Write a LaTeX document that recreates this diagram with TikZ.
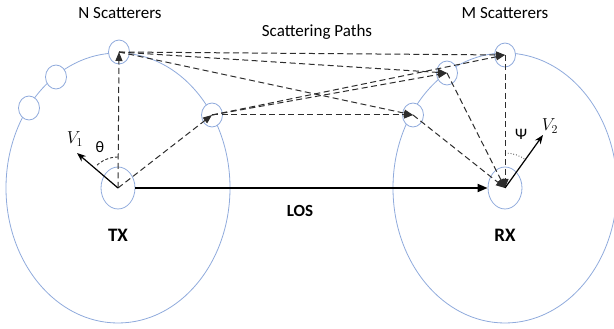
\documentclass[tikz,border=0pt]{standalone}
\usepackage{fontspec}
\setmainfont{Carlito}
\usepackage{amsmath}
\usetikzlibrary{
  arrows.meta,
  positioning,
  shapes.geometric
}
\definecolor{cellblue}{RGB}{143,170,220}
\definecolor{raygray}{RGB}{45,45,45}

\begin{document}
\begin{tikzpicture}[
  x=1pt,y=1pt,
  cell/.style ={draw=cellblue,ellipse,line width=0.8pt,inner sep=0pt,
                minimum width=224pt,minimum height=270pt},
  scat/.style ={draw=cellblue,ellipse,fill=white,line width=0.8pt,inner sep=0pt,
                minimum width=21pt,minimum height=24pt},
  ant/.style  ={draw=cellblue,ellipse,line width=0.8pt,inner sep=0pt,
                minimum width=34pt,minimum height=42pt},
  ray/.style  ={-{Triangle[length=9pt,width=7pt]},draw=raygray,
                dash pattern=on 6pt off 3.5pt,line width=1pt},
  los/.style  ={-{Triangle[length=10pt,width=8pt]},line width=1.8pt},
  vec/.style  ={-{Stealth[length=9pt,width=7pt]},line width=1.2pt},
  lbl/.style  ={font=\fontsize{17}{19}\selectfont},
  tag/.style  ={font=\fontsize{19}{21}\selectfont\bfseries},
  ang/.style  ={font=\fontsize{16}{18}\selectfont},
  vel/.style  ={font=\fontsize{17}{19}\selectfont},
]
\useasboundingbox (0,0) rectangle (614,329);

% cells round TX and RX
\node[cell] (cellT) at (118,141) {};
\node[cell] (cellR) at (505,141) {};

% scatterers on the cell borders
\node[scat] (n1) at (119,277) {};
\node[scat] (n2) at (56,252)  {};
\node[scat] (n3) at (29,221)  {};
\node[scat] (n4) at (212,214) {};
\node[scat] (m1) at (505,274) {};
\node[scat] (m2) at (447,256) {};
\node[scat] (m3) at (413,214) {};

\node[ant] (tx) at (118,141) {};
\node[ant] (rx) at (505,141) {};

\node[tag, below=16pt of tx] (txl) {TX};
\node[tag, below=16pt of rx] (rxl) {RX};
\node[lbl] (nsc) at (120,316) {N Scatterers};
\node[lbl] (msc) at (505,316) {M Scatterers};
\node[lbl] (spl) at (317,297) {Scattering Paths};

% scattering paths
\draw[ray] (tx.center) -- (n1.center);
\draw[ray] (tx.center) -- (n4.center);
\foreach \s in {n1,n4}
  \foreach \t in {m1,m2,m3}
    \draw[ray] (\s.center) -- (\t.center);
\foreach \t in {m1,m2,m3}
  \draw[ray] (\t.center) -- (rx.center);

% line of sight
\draw[los] (tx) -- (rx);
\node[tag, font=\fontsize{17}{19}\selectfont\bfseries] (losl) at (300,118) {LOS};

% velocities and angles
\coordinate (v1) at (77,176);
\coordinate (v2) at (543,194);
\draw[vec] (tx.center) -- (v1);
\draw[vec] (rx.center) -- (v2);
\node[vel] (v1l) at (75,190) {$V_1$};
\node[vel] (v2l) at (550,203) {$V_2$};
\draw[raygray, dash pattern=on 3pt off 2pt, line width=0.9pt]
  ([shift={(90:31)}]tx.center) arc[start angle=90, end angle=136, radius=31];
\draw[raygray, dotted, line width=0.8pt]
  ([shift={(90:35)}]rx.center) arc[start angle=90, end angle=53, radius=35];
\node[ang] (th) at (100,182) {θ};
\node[ang] (ps) at (521,195) {Ψ};
\end{tikzpicture}
\end{document}
